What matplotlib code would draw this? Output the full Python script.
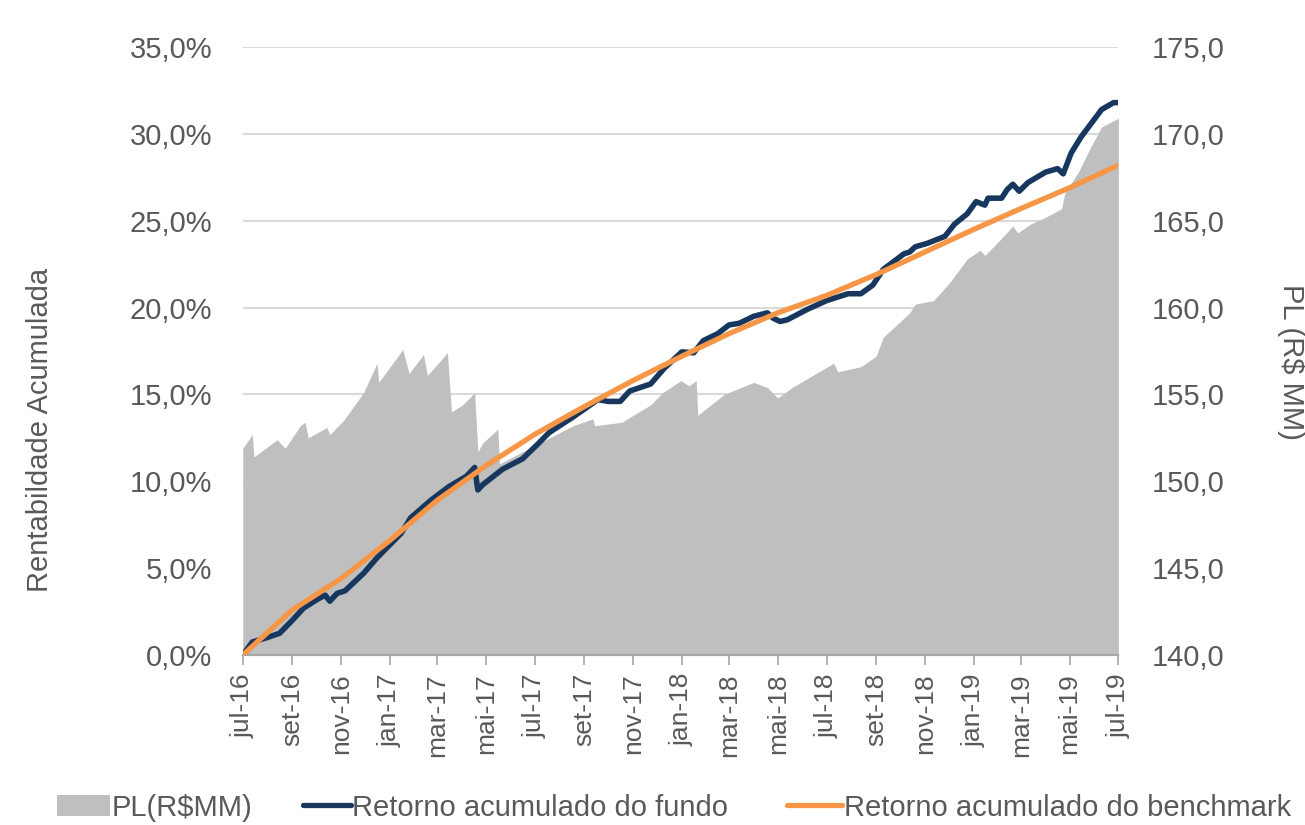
import pandas as pd
import matplotlib.pyplot as plt
from matplotlib.lines import Line2D
from matplotlib.patches import Patch
from matplotlib.ticker import FuncFormatter, MultipleLocator

plt.rcParams['font.family'] = ['Liberation Sans', 'DejaVu Sans']

# PL do fundo (R$ MM)
pl_dates = ['2016-07-01', '2016-07-13', '2016-07-15', '2016-08-13', '2016-08-23', '2016-09-11',
            '2016-09-17', '2016-09-21', '2016-10-14', '2016-10-18', '2016-11-04', '2016-11-29',
            '2016-12-16', '2016-12-18', '2017-01-11', '2017-01-17', '2017-01-25', '2017-02-12',
            '2017-02-17', '2017-03-14', '2017-03-19', '2017-04-02', '2017-04-17', '2017-04-21',
            '2017-04-27', '2017-05-16', '2017-05-18', '2017-06-16', '2017-07-07', '2017-08-18',
            '2017-09-12', '2017-09-14', '2017-10-18', '2017-11-23', '2017-12-08', '2017-12-31',
            '2018-01-10', '2018-01-19', '2018-01-21', '2018-02-23', '2018-04-01', '2018-04-18',
            '2018-05-01', '2018-05-19', '2018-07-10', '2018-07-15', '2018-08-13', '2018-09-01',
            '2018-09-10', '2018-09-22', '2018-10-13', '2018-10-20', '2018-11-12', '2018-12-03',
            '2018-12-24', '2019-01-09', '2019-01-15', '2019-02-01', '2019-02-19', '2019-02-25',
            '2019-03-13', '2019-04-01', '2019-04-21', '2019-04-25', '2019-05-12', '2019-05-28',
            '2019-06-10', '2019-07-01']
pl_values = [151.9, 152.7, 151.4, 152.4, 151.9, 153.2,
             153.4, 152.5, 153.1, 152.7, 153.5, 155.1,
             156.8, 155.7, 157.2, 157.6, 156.2, 157.3,
             156.1, 157.4, 154.0, 154.4, 155.1, 151.7,
             152.2, 153.0, 151.0, 151.7, 152.2, 153.2,
             153.6, 153.2, 153.4, 154.4, 155.1, 155.8,
             155.5, 155.8, 153.8, 155.0, 155.7, 155.4,
             154.8, 155.4, 156.8, 156.3, 156.6, 157.2,
             158.3, 158.8, 159.7, 160.2, 160.4, 161.5,
             162.8, 163.3, 163.0, 163.8, 164.7, 164.3,
             164.8, 165.2, 165.7, 166.6, 167.8, 169.3,
             170.4, 170.9]

# Retorno acumulado do fundo (%)
fund_dates = ['2016-07-01', '2016-07-13', '2016-07-31', '2016-08-16', '2016-09-01', '2016-09-15',
              '2016-10-02', '2016-10-12', '2016-10-18', '2016-10-27', '2016-11-06', '2016-11-29',
              '2016-12-16', '2017-01-02', '2017-01-15', '2017-01-27', '2017-02-21', '2017-03-16',
              '2017-04-07', '2017-04-17', '2017-04-21', '2017-04-27', '2017-05-22', '2017-06-16',
              '2017-07-04', '2017-07-19', '2017-08-18', '2017-09-18', '2017-10-01', '2017-10-16',
              '2017-10-28', '2017-11-23', '2017-12-10', '2018-01-01', '2018-01-16', '2018-01-28',
              '2018-02-15', '2018-03-01', '2018-03-14', '2018-04-01', '2018-04-18', '2018-04-25',
              '2018-05-04', '2018-05-13', '2018-06-07', '2018-07-01', '2018-07-28', '2018-08-13',
              '2018-08-28', '2018-09-10', '2018-10-06', '2018-10-13', '2018-10-20', '2018-11-04',
              '2018-11-26', '2018-12-08', '2018-12-24', '2019-01-04', '2019-01-15', '2019-01-19',
              '2019-02-05', '2019-02-12', '2019-02-19', '2019-02-27', '2019-03-10', '2019-04-01',
              '2019-04-16', '2019-04-23', '2019-05-03', '2019-05-15', '2019-05-28', '2019-06-10',
              '2019-06-25', '2019-07-01']
fund_values = [0.0, 0.75, 1.0, 1.25, 2.0, 2.7,
               3.2, 3.45, 3.1, 3.55, 3.7, 4.7,
               5.6, 6.4, 7.0, 7.9, 8.9, 9.7,
               10.3, 10.8, 9.5, 9.8, 10.7, 11.3,
               12.1, 12.8, 13.7, 14.7, 14.6, 14.6,
               15.2, 15.6, 16.5, 17.45, 17.4, 18.1,
               18.5, 19.0, 19.1, 19.5, 19.7, 19.4,
               19.2, 19.3, 19.9, 20.4, 20.8, 20.8,
               21.3, 22.2, 23.1, 23.2, 23.5, 23.7,
               24.1, 24.8, 25.4, 26.1, 25.9, 26.3,
               26.3, 26.8, 27.1, 26.7, 27.2, 27.8,
               28.0, 27.7, 28.9, 29.8, 30.6, 31.4,
               31.8, 31.8]

# Retorno acumulado do benchmark (%)
bench_dates = ['2016-07-01', '2016-09-01', '2016-11-01', '2017-01-01', '2017-03-01', '2017-05-01',
               '2017-07-01', '2017-09-01', '2017-11-01', '2018-01-01', '2018-03-01', '2018-05-01',
               '2018-07-01', '2018-09-01', '2018-11-01', '2019-01-01', '2019-03-01', '2019-05-01',
               '2019-07-01']
bench_values = [0.0, 2.6, 4.4, 6.6, 8.9, 10.9,
                12.7, 14.3, 15.8, 17.2, 18.5, 19.7,
                20.7, 21.9, 23.2, 24.5, 25.7, 26.9,
                28.2]

tick_labels = ['jul-16', 'set-16', 'nov-16', 'jan-17', 'mar-17', 'mai-17', 'jul-17',
               'set-17', 'nov-17', 'jan-18', 'mar-18', 'mai-18', 'jul-18', 'set-18',
               'nov-18', 'jan-19', 'mar-19', 'mai-19', 'jul-19']

text_color = '#595959'

fig = plt.figure(figsize=(13.05, 8.25), dpi=100)
ax = fig.add_axes([0.186, 0.206, 0.671, 0.737])
ax2 = ax.twinx()

# área do PL no eixo da direita, por baixo das linhas
ax2.fill_between(pd.to_datetime(pl_dates), 140, pl_values, color='#BFBFBF', linewidth=0, zorder=2)
ax2.set_ylim(140, 175)
ax2.yaxis.set_major_locator(MultipleLocator(5))
ax2.grid(axis='y', color='#D9D9D9', linewidth=1.5, zorder=0)
ax2.set_axisbelow(True)

ax.plot(pd.to_datetime(fund_dates), fund_values, color='#17375E', linewidth=4.0,
        solid_capstyle='round', solid_joinstyle='round', zorder=3)
ax.plot(pd.to_datetime(bench_dates), bench_values, color='#F79646', linewidth=3.8,
        solid_capstyle='round', zorder=4)
ax.set_zorder(ax2.get_zorder() + 1)
ax.patch.set_visible(False)

ax.set_ylim(0, 35)
ax.yaxis.set_major_locator(MultipleLocator(5))
ax.yaxis.set_major_formatter(FuncFormatter(lambda v, p: f'{v:.1f}%'.replace('.', ',')))
ax2.yaxis.set_major_formatter(FuncFormatter(lambda v, p: f'{v:.1f}'.replace('.', ',')))

tick_pos = pd.date_range('2016-07-01', '2019-07-01', freq='2MS')
ax.set_xlim(tick_pos[0], tick_pos[-1])
ax.set_xticks(tick_pos)
ax.set_xticklabels(tick_labels, rotation=90, fontsize=19, color=text_color)

for a in (ax, ax2):
    for s in ('top', 'left', 'right'):
        a.spines[s].set_visible(False)
    a.spines['bottom'].set_color('#A6A6A6')
    a.spines['bottom'].set_linewidth(1.5)
ax.tick_params(axis='x', length=7, width=1.2, color='#A6A6A6', pad=6)
ax.tick_params(axis='y', length=0, labelsize=21, labelcolor=text_color, pad=22)
ax2.tick_params(axis='y', length=0, labelsize=21, labelcolor=text_color, pad=24)

ax.set_ylabel('Rentabildade Acumulada', fontsize=21, color=text_color)
ax.yaxis.set_label_coords(-0.216, 0.37)
ax2.set_ylabel(r'PL (R\$ MM)', fontsize=21, color=text_color, rotation=270, va='center')
ax2.yaxis.set_label_coords(1.197, 0.482)

# legenda em três blocos, como no original
leg_kw = dict(frameon=False, fontsize=21, labelcolor=text_color, handletextpad=0.05,
              borderpad=0, borderaxespad=0, loc='center left')
fig.legend([Patch(facecolor='#BFBFBF', edgecolor='none')], ['PL(R$MM)'],
           bbox_to_anchor=(0.044, 0.021), handleheight=0.7, handlelength=1.8, **leg_kw)
fig.legend([Line2D([], [], color='#17375E', linewidth=3.8, solid_capstyle='round')],
           ['Retorno acumulado do fundo'],
           bbox_to_anchor=(0.232, 0.021), handlelength=1.65, **leg_kw)
fig.legend([Line2D([], [], color='#F79646', linewidth=3.8, solid_capstyle='round')],
           ['Retorno acumulado do benchmark'],
           bbox_to_anchor=(0.603, 0.021), handlelength=1.9, **leg_kw)

plt.savefig('out.png', dpi=100)
